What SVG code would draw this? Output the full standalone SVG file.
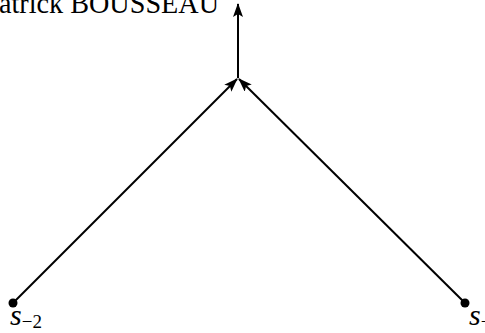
<svg xmlns="http://www.w3.org/2000/svg" width="485" height="333" viewBox="0 0 485 333">
<style>
.t{font-family:"Liberation Serif","DejaVu Serif",serif;fill:#000}
.m{font-family:"Liberation Serif","DejaVu Serif",serif;font-style:italic;fill:#000}
.e{stroke:#000;stroke-width:2;fill:none}
</style>
<defs>
<marker id="ah" markerWidth="14" markerHeight="10" refX="13" refY="5" orient="auto" markerUnits="userSpaceOnUse">
<path d="M0,0 L14,5 L0,10 L3,5 Z" fill="#000"/>
</marker>
</defs>
<rect width="485" height="333" fill="#fff"/>
<text class="t" x="-1" y="13" font-size="29" textLength="220" lengthAdjust="spacingAndGlyphs">atrick BOUSSEAU</text>
<g id="connectors">
<line class="e" x1="13" y1="303" x2="237" y2="79" marker-end="url(#ah)"/>
<line class="e" x1="465" y1="303" x2="239" y2="79" marker-end="url(#ah)"/>
<line class="e" x1="238" y1="78" x2="238" y2="4" marker-end="url(#ah)"/>
</g>
<g id="node-s-2">
<circle cx="13" cy="303" r="4.5" fill="#000"/>
<text class="m" x="10" y="325" font-size="30">s<tspan font-size="19" font-style="normal" dy="3">−2</tspan></text>
</g>
<g id="node-s-1">
<circle cx="465" cy="303" r="4.5" fill="#000"/>
<text class="m" x="469" y="325" font-size="30">s<tspan font-size="19" font-style="normal" dy="3">−</tspan></text>
</g>
</svg>
